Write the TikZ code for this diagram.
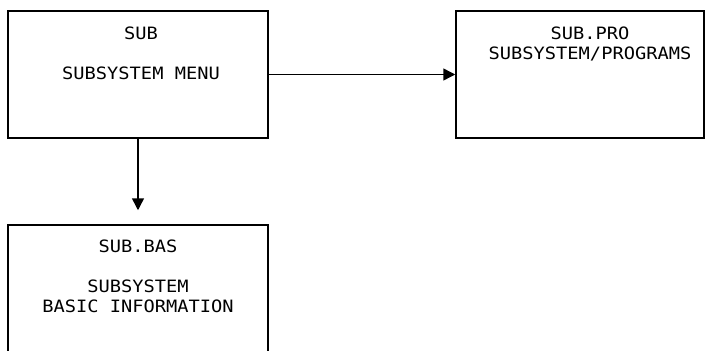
\documentclass[tikz,border=0pt]{standalone}
\usepackage{fontspec}
\setmonofont[FakeStretch=1.1]{DejaVu Sans Mono}
\usetikzlibrary{arrows.meta,positioning}

\begin{document}
\begin{tikzpicture}[x=1pt,y=-1pt,
    panel/.style={draw,line width=1.5pt,inner sep=0pt},
    caption/.style={inner sep=0pt,align=center,font=\ttfamily\fontsize{17}{20}\selectfont},
    flow/.style={line width=1.5pt,-{Triangle[length=12pt,width=12pt]}}]
            \useasboundingbox (0,0) rectangle (705,351);
            % the three screens
            \node[panel,minimum width=260pt,minimum height=127pt] (sub) at (138,74.5) {};
            \node[panel,minimum width=248pt,minimum height=127pt] (pro) at (580,74.5) {};
            \node[panel,minimum width=260pt,minimum height=130pt] (bas) at (138,290) {};
            \node[caption,below=16pt of sub.north,xshift=3pt] (subtxt) {SUB\\ \\SUBSYSTEM MENU};
            \node[caption,below=16pt of pro.north,xshift=10pt] (protxt) {SUB.PRO\\SUBSYSTEM/PROGRAMS};
            \node[caption,below=15pt of bas.north] (bastxt) {SUB.BAS\\ \\SUBSYSTEM\\BASIC INFORMATION};
            % links
            \draw[flow] (sub) -- (pro);
            \draw[flow,shorten >=14pt] (sub) -- (bas);
        \end{tikzpicture}
\end{document}
